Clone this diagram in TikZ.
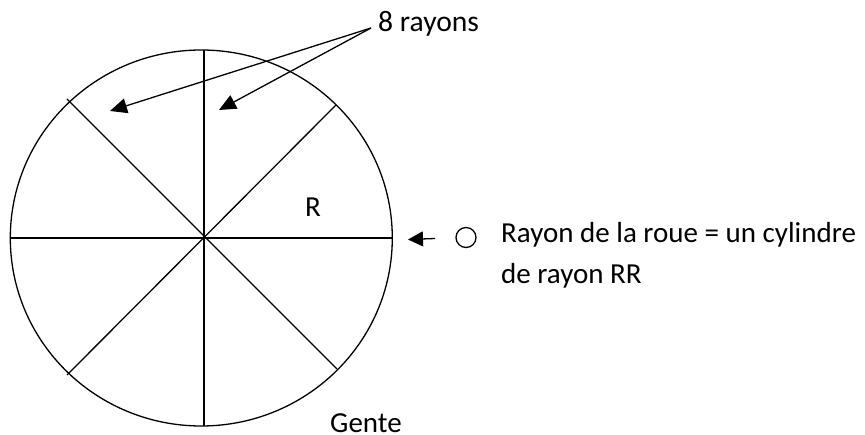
\documentclass[tikz,border=0pt]{standalone}
\usepackage{fontspec}
\setmainfont{Carlito}
\usetikzlibrary{arrows.meta}
\tikzset{
  wheel/.style={draw=black,line width=1.3pt},
  spoke/.style={draw=black,line width=1.3pt},
  lead/.style={draw=black,line width=1.3pt,-{Triangle[length=17pt,width=15pt]}},
  shortlead/.style={draw=black,line width=1.3pt,-{Triangle[length=15pt,width=15pt]}},
  lbl/.style={inner sep=0pt,anchor=base west,font=\fontsize{29}{34}\selectfont,text=black}
}
\begin{document}
\begin{tikzpicture}[x=1pt,y=-1pt]
\useasboundingbox (0,0) rectangle (865,435);
\fill[white] (0,0) rectangle (865,435);
\coordinate (c) at (204,238);
\coordinate (l) at (10,238);
\coordinate (r) at (392,238);
\coordinate (t) at (204,50);
\coordinate (b) at (204,426);
\coordinate (tl) at (67,99);
\coordinate (tr) at (336,105);
\coordinate (bl) at (67,375);
\coordinate (br) at (337,369);
\draw[wheel] (201.3,238) ellipse [x radius=191,y radius=188];
\draw[spoke] (l) -- (r);
\draw[spoke] (t) -- (b);
\draw[spoke] (tl) -- (br);
\draw[spoke] (bl) -- (tr);
\node[lbl,font=\fontsize{29.6}{34}\selectfont] (n8) at (378,32) {8 rayons};
\coordinate (ns) at (371,28);
\coordinate (a1) at (110,111);
\coordinate (a2) at (219,110);
\draw[lead] (ns) -- (a1);
\draw[lead] (ns) -- (a2);
\node[lbl] (nR) at (305,217) {R};
\node[lbl] (nG) at (330,432) {Gente};
\coordinate (a3s) at (435,238.5);
\coordinate (a3e) at (408,239.5);
\draw[shortlead] (a3s) -- (a3e);
\node[draw=black,line width=1.3pt,circle,minimum size=20pt,inner sep=0pt] (bul) at (466,237.5) {};
\node[lbl] (t1) at (501,243) {Rayon de la roue = un cylindre};
\node[lbl] (t2) at (501,284) {de rayon RR};
\end{tikzpicture}
\end{document}
